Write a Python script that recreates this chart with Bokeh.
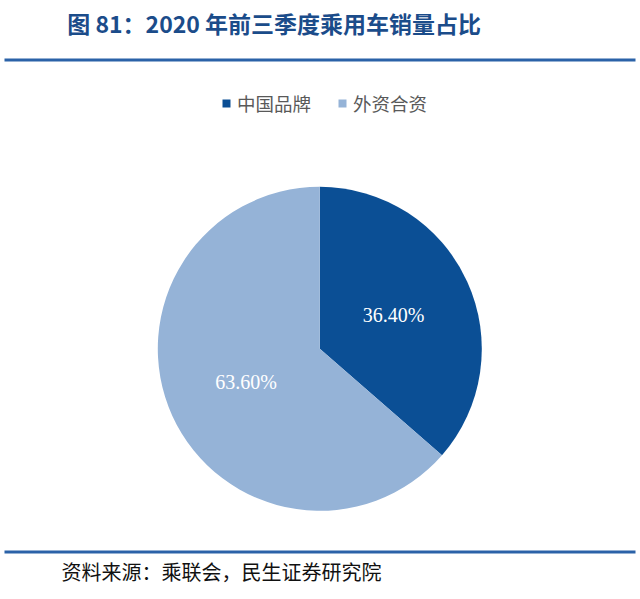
import math
from bokeh.plotting import figure
from bokeh.models import Range1d, ColumnDataSource, Legend, LegendItem
from bokeh.core.properties import value
from bokeh.embed import file_html
from bokeh.resources import INLINE

# ---- data ----
categories = ["中国品牌", "外资合资"]
shares = [36.40, 63.60]
labels = ["36.40%", "63.60%"]
colors = ["#0B4F95", "#95B3D7"]
title_text = "图 81：2020 年前三季度乘用车销量占比"
source_text = "资料来源：乘联会，民生证券研究院"

W, H = 640, 599
p = figure(width=W, height=H, output_backend="svg", toolbar_location=None,
           x_range=Range1d(0, W), y_range=Range1d(0, H), min_border=0,
           match_aspect=False)
p.axis.visible = False
p.grid.visible = False
p.outline_line_color = None
p.background_fill_color = "white"
p.border_fill_color = "white"

# pie geometry
cx, cy, R = 319.3, 250.7, 162.0
total = sum(shares)
starts, ends, lx, ly = [], [], [], []
cum = 0.0
for s in shares:
    a0 = math.pi / 2 - 2 * math.pi * cum / total
    cum += s
    a1 = math.pi / 2 - 2 * math.pi * cum / total
    starts.append(a0)
    ends.append(a1)
    mid = (a0 + a1) / 2
    lx.append(cx + 0.5 * R * math.cos(mid))
    ly.append(cy + 0.5 * R * math.sin(mid))

src = ColumnDataSource(dict(cat=categories, share=shares, start=starts, end=ends,
                            color=colors, lab=labels, lx=lx, ly=ly))
wr = p.wedge(x=cx, y=cy, radius=R, start_angle="start", end_angle="end",
             direction="clock", fill_color="color", line_color=None, source=src)
p.text(x="lx", y="ly", text="lab", source=src, text_color="white",
       text_font=value("Liberation Serif"), text_font_size="20px",
       text_align="center", text_baseline="middle")

# title and rules
p.text(x=[66.7], y=[577], text=[title_text], text_color="#1B4C8A",
       text_font=value("Noto Sans CJK SC"), text_font_style="bold",
       text_font_size="23px", text_baseline="middle", text_align="left")
p.segment(x0=[4, 4], y0=[539.5, 47.5], x1=[635, 635], y1=[539.5, 47.5],
          line_color="#2B62A8", line_width=3)
p.text(x=[61], y=[28], text=[source_text], text_color="#111111",
       text_font=value("Noto Sans CJK SC"), text_font_size="20px",
       text_baseline="middle", text_align="left")

legend = Legend(items=[LegendItem(label=categories[i], renderers=[wr], index=i)
                       for i in range(len(categories))],
                orientation="horizontal", location=(221, 483),
                glyph_width=10, glyph_height=10, label_standoff=6, spacing=26,
                padding=0, margin=0, border_line_color=None,
                background_fill_alpha=0,
                label_text_font="Noto Sans CJK SC", label_text_font_size="18.5px",
                label_text_color="#595959")
p.add_layout(legend, "center")

open("out.html", "w").write(file_html(p, INLINE))
